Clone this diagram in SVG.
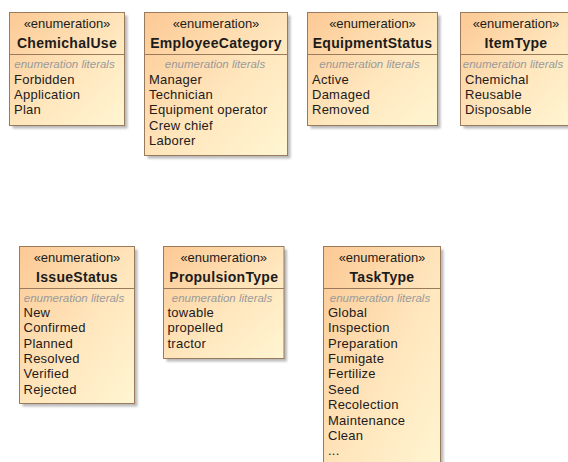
<svg xmlns="http://www.w3.org/2000/svg" width="568" height="462" viewBox="0 0 568 462">
  <defs>
    <linearGradient id="enumFill" x1="0" y1="0" x2="1" y2="1">
      <stop offset="0" stop-color="#fcc994"/>
      <stop offset="0.55" stop-color="#ffe6bd"/>
      <stop offset="1" stop-color="#fff6d2"/>
    </linearGradient>
    <filter id="soft" x="-10%" y="-10%" width="120%" height="120%">
      <feGaussianBlur stdDeviation="1"/>
    </filter>
  </defs>
  <style>
    .shadow { fill: #8c8c8c; opacity: 0.6; filter: url(#soft); }
    .box { fill: url(#enumFill); stroke: #9a7a5c; stroke-width: 1; }
    .sep { stroke: #9a7a5c; stroke-width: 1; }
    text { font-family: "Liberation Sans", Arial, sans-serif; fill: #1c1c1c; }
    .stereo { font-size: 13px; text-anchor: middle; }
    .name { font-size: 14px; font-weight: bold; text-anchor: middle; letter-spacing: 0.3px; }
    .lit { font-size: 11.5px; font-style: italic; fill: #9a9a9a; text-anchor: middle; }
    .item { font-size: 13px; letter-spacing: 0.25px; fill: #231a1a; }
  </style>

  <g id="connectors"/>

  <!-- top row -->
  <g id="ChemichalUse">
    <rect class="shadow" x="12.5" y="15.5" width="115" height="113"/>
    <rect class="box" x="9.5" y="12.5" width="115" height="113"/>
    <line class="sep" x1="9.5" y1="54.5" x2="124.5" y2="54.5"/>
    <text class="stereo" x="67" y="27.5">«enumeration»</text>
    <text class="name" x="67" y="47.5">ChemichalUse</text>
    <text class="lit" x="64.5" y="68">enumeration literals</text>
    <text class="item" x="14" y="83.5">Forbidden</text>
    <text class="item" x="14" y="98.9">Application</text>
    <text class="item" x="14" y="114.3">Plan</text>
  </g>

  <g id="EmployeeCategory">
    <rect class="shadow" x="147.5" y="15.5" width="143" height="143"/>
    <rect class="box" x="144.5" y="12.5" width="143" height="143"/>
    <line class="sep" x1="144.5" y1="54.5" x2="287.5" y2="54.5"/>
    <text class="stereo" x="216" y="27.5">«enumeration»</text>
    <text class="name" x="216" y="47.5">EmployeeCategory</text>
    <text class="lit" x="215" y="68">enumeration literals</text>
    <text class="item" x="149" y="83.5">Manager</text>
    <text class="item" x="149" y="98.9">Technician</text>
    <text class="item" x="149" y="114.3">Equipment operator</text>
    <text class="item" x="149" y="129.7">Crew chief</text>
    <text class="item" x="149" y="145.1">Laborer</text>
  </g>

  <g id="EquipmentStatus">
    <rect class="shadow" x="310.5" y="15.5" width="130" height="113"/>
    <rect class="box" x="307.5" y="12.5" width="130" height="113"/>
    <line class="sep" x1="307.5" y1="54.5" x2="437.5" y2="54.5"/>
    <text class="stereo" x="372.5" y="27.5">«enumeration»</text>
    <text class="name" x="372.5" y="47.5">EquipmentStatus</text>
    <text class="lit" x="369.5" y="68">enumeration literals</text>
    <text class="item" x="312" y="83.5">Active</text>
    <text class="item" x="312" y="98.9">Damaged</text>
    <text class="item" x="312" y="114.3">Removed</text>
  </g>

  <g id="ItemType">
    <rect class="shadow" x="463.5" y="15.5" width="111" height="113"/>
    <rect class="box" x="460.5" y="12.5" width="111" height="113"/>
    <line class="sep" x1="460.5" y1="54.5" x2="571.5" y2="54.5"/>
    <text class="stereo" x="516" y="27.5">«enumeration»</text>
    <text class="name" x="516" y="47.5">ItemType</text>
    <text class="lit" x="513" y="68">enumeration literals</text>
    <text class="item" x="465" y="83.5">Chemichal</text>
    <text class="item" x="465" y="98.9">Reusable</text>
    <text class="item" x="465" y="114.3">Disposable</text>
  </g>

  <!-- bottom row -->
  <g id="IssueStatus">
    <rect class="shadow" x="22.5" y="249.5" width="115" height="157"/>
    <rect class="box" x="19.5" y="246.5" width="115" height="157"/>
    <line class="sep" x1="19.5" y1="288.5" x2="134.5" y2="288.5"/>
    <text class="stereo" x="77" y="261.5">«enumeration»</text>
    <text class="name" x="77" y="281.5">IssueStatus</text>
    <text class="lit" x="74" y="302">enumeration literals</text>
    <text class="item" x="23.5" y="316.8">New</text>
    <text class="item" x="23.5" y="332.2">Confirmed</text>
    <text class="item" x="23.5" y="347.6">Planned</text>
    <text class="item" x="23.5" y="363">Resolved</text>
    <text class="item" x="23.5" y="378.4">Verified</text>
    <text class="item" x="23.5" y="393.8">Rejected</text>
  </g>

  <g id="PropulsionType">
    <rect class="shadow" x="166.5" y="249.5" width="120.5" height="112"/>
    <rect class="box" x="163.5" y="246.5" width="120.5" height="112"/>
    <line class="sep" x1="163.5" y1="288.5" x2="284" y2="288.5"/>
    <text class="stereo" x="223.75" y="261.5">«enumeration»</text>
    <text class="name" x="223.75" y="281.5">PropulsionType</text>
    <text class="lit" x="222" y="302">enumeration literals</text>
    <text class="item" x="167.5" y="316.8">towable</text>
    <text class="item" x="167.5" y="332.2">propelled</text>
    <text class="item" x="167.5" y="347.6">tractor</text>
  </g>

  <g id="TaskType">
    <rect class="shadow" x="326.5" y="249.5" width="117" height="230"/>
    <rect class="box" x="323.5" y="246.5" width="117" height="230"/>
    <line class="sep" x1="323.5" y1="288.5" x2="440.5" y2="288.5"/>
    <text class="stereo" x="382" y="261.5">«enumeration»</text>
    <text class="name" x="382" y="281.5">TaskType</text>
    <text class="lit" x="380" y="302">enumeration literals</text>
    <text class="item" x="328" y="316.8">Global</text>
    <text class="item" x="328" y="332.2">Inspection</text>
    <text class="item" x="328" y="347.6">Preparation</text>
    <text class="item" x="328" y="363">Fumigate</text>
    <text class="item" x="328" y="378.4">Fertilize</text>
    <text class="item" x="328" y="393.8">Seed</text>
    <text class="item" x="328" y="409.2">Recolection</text>
    <text class="item" x="328" y="424.6">Maintenance</text>
    <text class="item" x="328" y="440">Clean</text>
    <text class="item" x="328" y="455.4">...</text>
  </g>
</svg>
